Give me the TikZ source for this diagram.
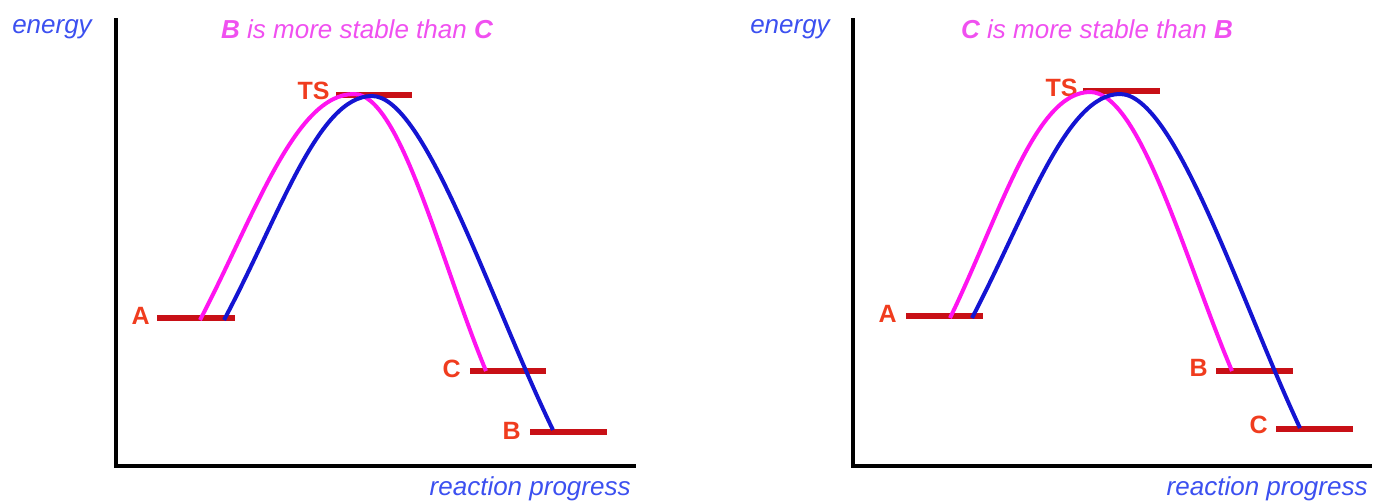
\documentclass[tikz,border=0pt]{standalone}
\usepackage{fontspec}
\setmainfont{Liberation Sans}
\definecolor{barred}{RGB}{200,16,22}
\definecolor{lblred}{RGB}{240,60,30}
\definecolor{curvemag}{RGB}{255,20,240}
\definecolor{curveblue}{RGB}{20,20,210}
\definecolor{titlemag}{RGB}{240,80,240}
\definecolor{axisblue}{RGB}{60,80,240}
\tikzset{
  axisline/.style={line width=2pt, line cap=rect},
  level/.style={line width=2.6pt, barred},
  lbl/.style={font=\fontsize{12.5}{14}\selectfont\bfseries, text=lblred, inner sep=0pt},
  axlbl/.style={font=\fontsize{13}{15}\selectfont\itshape, text=axisblue, inner sep=0pt},
  ttl/.style={font=\fontsize{13}{15}\selectfont\itshape, text=titlemag, inner sep=0pt},
  magc/.style={line width=2pt, curvemag},
  bluec/.style={line width=2pt, curveblue},
}
\begin{document}
\begin{tikzpicture}[x=0.5pt,y=-0.5pt]
\useasboundingbox (0,0) rectangle (1373,504);
% ---------- left panel ----------
\coordinate (Ltop) at (116,20);
\coordinate (Lorig) at (116,466);
\coordinate (Lright) at (634,466);
\draw[axisline] (Ltop) -- (Lorig) -- (Lright);
\node[axlbl] (Lenergy) at (52,29) {energy};
\node[axlbl, anchor=east] (Lprog) at (631,489) {reaction progress};
\node[ttl] (Ltitle) at (357,29) {\textbf{B} is more stable than \textbf{C}};
% levels
\coordinate (LTSa) at (336,95); \coordinate (LTSb) at (412,95);
\coordinate (LAa) at (157,318); \coordinate (LAb) at (235,318);
\coordinate (LCa) at (470,371); \coordinate (LCb) at (546,371);
\coordinate (LBa) at (530,432); \coordinate (LBb) at (607,432);
\draw[level] (LTSa) -- (LTSb);
\draw[level] (LAa) -- (LAb);
\draw[level] (LCa) -- (LCb);
\draw[level] (LBa) -- (LBb);
\node[lbl, anchor=east] (LTS) at (330,91) {TS};
\node[lbl, anchor=east] (LA) at (150,316) {A};
\node[lbl, anchor=east] (LC) at (461,369) {C};
\node[lbl, anchor=east] (LB) at (521,431) {B};
% curves
\coordinate (LmS) at (200,320); \coordinate (LmP) at (354,94); \coordinate (LmE) at (486,371);
\coordinate (LbS) at (224,320); \coordinate (LbP) at (372,96); \coordinate (LbE) at (553,430);
\draw[magc] (LmS) .. controls (255,215) and (295,94) .. (LmP)
  .. controls (400,94) and (440,260) .. (LmE);
\draw[bluec] (LbS) .. controls (280,215) and (318,96) .. (LbP)
  .. controls (425,96) and (490,300) .. (LbE);
% ---------- right panel ----------
\coordinate (Rtop) at (853,20);
\coordinate (Rorig) at (853,466);
\coordinate (Rright) at (1370,466);
\draw[axisline] (Rtop) -- (Rorig) -- (Rright);
\node[axlbl] (Renergy) at (790,29) {energy};
\node[axlbl, anchor=east] (Rprog) at (1368,489) {reaction progress};
\node[ttl] (Rtitle) at (1097,29) {\textbf{C} is more stable than \textbf{B}};
\coordinate (RTSa) at (1083,91); \coordinate (RTSb) at (1160,91);
\coordinate (RAa) at (906,316); \coordinate (RAb) at (983,316);
\coordinate (RBa) at (1216,371); \coordinate (RBb) at (1293,371);
\coordinate (RCa) at (1276,429); \coordinate (RCb) at (1353,429);
\draw[level] (RTSa) -- (RTSb);
\draw[level] (RAa) -- (RAb);
\draw[level] (RBa) -- (RBb);
\draw[level] (RCa) -- (RCb);
\node[lbl, anchor=east] (RTS) at (1078,88) {TS};
\node[lbl, anchor=east] (RA) at (897,314) {A};
\node[lbl, anchor=east] (RB) at (1208,368) {B};
\node[lbl, anchor=east] (RC) at (1268,425) {C};
\coordinate (RmS) at (950,318); \coordinate (RmP) at (1090,92); \coordinate (RmE) at (1232,371);
\coordinate (RbS) at (972,318); \coordinate (RbP) at (1120,94); \coordinate (RbE) at (1300,428);
\draw[magc] (RmS) .. controls (1000,215) and (1035,92) .. (RmP)
  .. controls (1140,92) and (1185,260) .. (RmE);
\draw[bluec] (RbS) .. controls (1026,215) and (1066,94) .. (RbP)
  .. controls (1175,94) and (1240,300) .. (RbE);
\end{tikzpicture}
\end{document}
